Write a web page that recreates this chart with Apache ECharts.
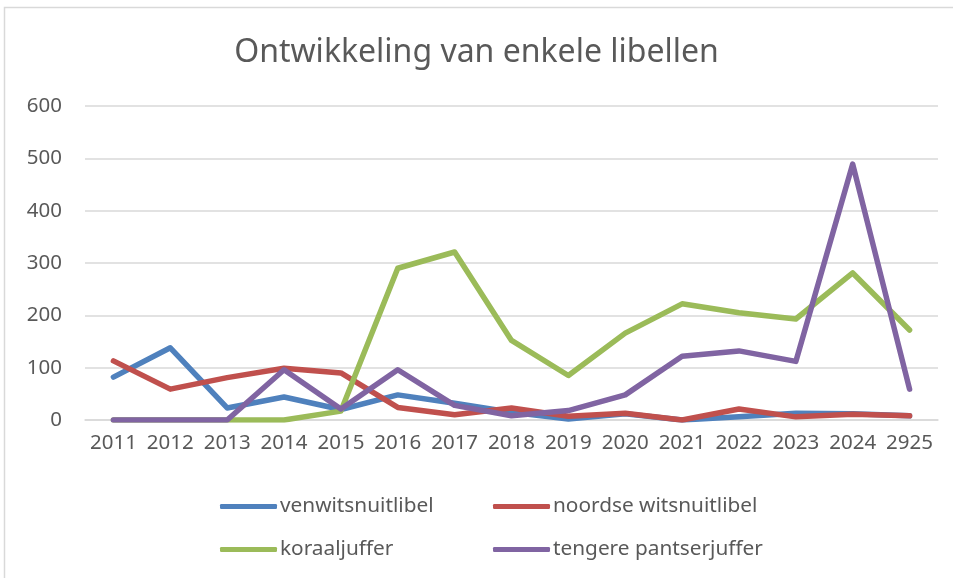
<!DOCTYPE html>
<html>
<head>
<meta charset="utf-8">
<script src="https://cdn.jsdelivr.net/npm/echarts@6/dist/echarts.min.js"></script>
<style>
  html, body { margin: 0; padding: 0; background: #fff; }
  #main { width: 953px; height: 578px; }
</style>
</head>
<body>
<div id="main"></div>
<script>
var chartDom = document.getElementById('main');
var myChart = echarts.init(chartDom);
var option;

const years = ['2011', '2012', '2013', '2014', '2015', '2016', '2017', '2018', '2019', '2020', '2021', '2022', '2023', '2024', '2925'];

const venwitsnuitlibel = [82, 138, 23, 44, 20, 48, 32, 15, 2, 12, 0, 6, 13, 12, 8];
const noordseWitsnuitlibel = [113, 59, 81, 99, 90, 24, 10, 23, 7, 13, 0, 21, 6, 11, 8];
const koraaljuffer = [0, 0, 0, 0, 17, 290, 321, 152, 85, 166, 222, 205, 193, 281, 172];
const tengerePantserjuffer = [0, 0, 0, 96, 21, 96, 28, 8, 18, 48, 122, 132, 112, 489, 59];

const FONT = 'Noto Sans';
const TEXT_COLOR = '#595959';

const seriesDefs = [
  { name: 'venwitsnuitlibel', data: venwitsnuitlibel, color: '#4F81BD' },
  { name: 'noordse witsnuitlibel', data: noordseWitsnuitlibel, color: '#C0504D' },
  { name: 'koraaljuffer', data: koraaljuffer, color: '#9BBB59' },
  { name: 'tengere pantserjuffer', data: tengerePantserjuffer, color: '#8064A2' }
];

// one legend per item so the two columns line up
const legendPos = [
  { left: 220, top: 496 },
  { left: 493, top: 496 },
  { left: 220, top: 539 },
  { left: 493, top: 539 }
];

function makeLegend(def, i) {
  return {
    data: [def.name],
    left: legendPos[i].left,
    top: legendPos[i].top,
    padding: 0,
    icon: 'roundRect',
    itemWidth: 57,
    itemHeight: 5,
    itemGap: 0,
    textStyle: { fontFamily: FONT, fontSize: 20.8, color: TEXT_COLOR, padding: [0, 0, 0, -2] }
  };
}

option = {
  backgroundColor: '#fff',
  animation: false,
  title: {
    text: 'Ontwikkeling van enkele libellen',
    left: 'center',
    top: 32,
    textStyle: { fontFamily: FONT, fontSize: 32, fontWeight: 'normal', color: TEXT_COLOR }
  },
  graphic: [
    {
      type: 'rect',
      shape: { x: 4.5, y: 7.5, width: 1000, height: 1000 },
      style: { fill: 'none', stroke: '#d9d9d9', lineWidth: 1.5 },
      silent: true
    }
  ],
  legend: seriesDefs.map(makeLegend),
  grid: {
    left: 85,
    right: 15,
    top: 106,
    bottom: 158
  },
  xAxis: {
    type: 'category',
    data: years,
    boundaryGap: true,
    axisLine: { show: true, lineStyle: { color: '#d9d9d9', width: 1.5 } },
    axisTick: { show: false },
    axisLabel: { interval: 0, hideOverlap: false, fontFamily: FONT, fontSize: 20.5, color: TEXT_COLOR, margin: 13 }
  },
  yAxis: {
    type: 'value',
    min: 0,
    max: 600,
    interval: 100,
    axisLine: { show: false },
    axisTick: { show: false },
    axisLabel: { fontFamily: FONT, fontSize: 20.5, color: TEXT_COLOR, margin: 23 },
    splitLine: { lineStyle: { color: '#d9d9d9', width: 1.5 } }
  },
  series: seriesDefs.map(def => ({
    name: def.name,
    type: 'line',
    data: def.data,
    symbol: 'none',
    color: def.color,
    lineStyle: { width: 5.5, color: def.color, cap: 'round', join: 'round' }
  }))
};

option && myChart.setOption(option);
</script>
</body>
</html>
